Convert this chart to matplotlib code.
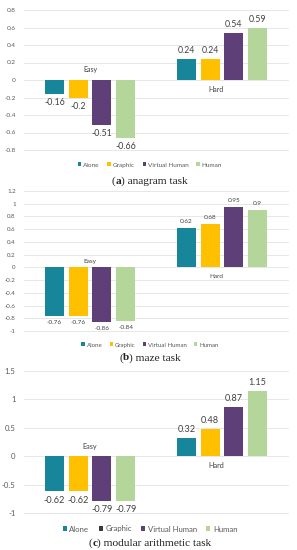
import matplotlib
matplotlib.use("Agg")
import matplotlib.pyplot as plt
from matplotlib.patches import Patch

W, H = 297, 550
DPI = 100

categories = ["Easy", "Hard"]
series = ["Alone", "Graphic", "Virtual Human", "Human"]
colors = ["#17869b", "#ffc000", "#5e3f78", "#b5d69a"]

anagram = {"Alone": [-0.16, 0.24], "Graphic": [-0.2, 0.24],
           "Virtual Human": [-0.51, 0.54], "Human": [-0.66, 0.59]}
maze = {"Alone": [-0.76, 0.62], "Graphic": [-0.76, 0.68],
        "Virtual Human": [-0.86, 0.95], "Human": [-0.84, 0.9]}
modular = {"Alone": [-0.62, 0.32], "Graphic": [-0.62, 0.48],
           "Virtual Human": [-0.79, 0.87], "Human": [-0.79, 1.15]}

ticks_a = [-0.8, -0.6, -0.4, -0.2, 0, 0.2, 0.4, 0.6, 0.8]
ticks_b = [-1, -0.8, -0.6, -0.4, -0.2, 0, 0.2, 0.4, 0.6, 0.8, 1, 1.2]
ticks_c = [-1, -0.5, 0, 0.5, 1, 1.5]

captions = [("(", "a", ") anagram task"), ("(", "b", ") maze task"),
            ("(", "c", ") modular arithmetic task")]

fig = plt.figure(figsize=(W / DPI, H / DPI), dpi=DPI)
fig.patch.set_facecolor("white")

FONT = "Lato"
SERIF = "Liberation Serif"
CAP_FS = 8.2


def fmt(v):
    return f"{v:g}"


def panel(data, ticks, ytop_px, ybot_px, legend_y, cap_y, caption, tick_fs, lab_fs,
          cat_fs, easy_y, hard_y, legend_colors):
    left, right = 24, 288
    ax = fig.add_axes([left / W, 1 - ybot_px / H, (right - left) / W, (ybot_px - ytop_px) / H])
    ax.set_xlim(-0.5, 1.5)
    ax.set_ylim(ticks[0], ticks[-1])
    for s in ax.spines.values():
        s.set_visible(False)
    ax.set_xticks([])
    ax.set_yticks(ticks)
    ax.set_yticklabels([fmt(t) for t in ticks], fontsize=tick_fs, color="#595959", family=FONT)
    ax.tick_params(axis="y", length=0, pad=6)
    for t in ticks:
        ax.axhline(t, color="#e3e3e3", lw=0.6, zorder=0, clip_on=False)
    bw = 0.145
    step = 0.18
    offs = [-1.5 * step, -0.5 * step, 0.5 * step, 1.5 * step]
    for i, name in enumerate(series):
        xs = [c + offs[i] for c in range(len(categories))]
        vals = data[name]
        ax.bar(xs, vals, width=bw, color=colors[i], zorder=2)
        for x, v in zip(xs, vals):
            if v < 0:
                ax.annotate(fmt(v), (x, v), xytext=(0, -3), textcoords="offset points",
                            ha="center", va="top", fontsize=lab_fs, color="#404040", family=FONT)
            else:
                ax.annotate(fmt(v), (x, v), xytext=(0, 3), textcoords="offset points",
                            ha="center", va="bottom", fontsize=lab_fs, color="#404040", family=FONT)
    fig.text(90 / W, 1 - easy_y / H, categories[0], ha="center", va="center",
             fontsize=cat_fs, color="#404040", family=FONT)
    fig.text(216 / W, 1 - hard_y / H, categories[1], ha="center", va="center",
             fontsize=cat_fs, color="#404040", family=FONT)
    handles = [Patch(facecolor=c, edgecolor="none") for c in legend_colors]
    fig.legend(handles, series, loc="center", bbox_to_anchor=(150 / W, 1 - legend_y / H),
               ncol=4, frameon=False, handlelength=0.55, handleheight=0.55,
               handletextpad=0.3, columnspacing=1.2, prop={"family": FONT, "size": tick_fs},
               labelcolor="#595959")
    # caption with bold letter
    fig.canvas.draw()
    r = fig.canvas.get_renderer()
    parts = []
    for j, s in enumerate(caption):
        t = fig.text(0, 0, s, fontsize=CAP_FS, family=SERIF,
                     weight="bold" if j == 1 else "normal", color="#222222", va="baseline")
        parts.append(t)
    widths = [t.get_window_extent(r).width for t in parts]
    x = 150 - sum(widths) / 2
    for t, w in zip(parts, widths):
        t.set_position((x / W, 1 - (cap_y + 2.5) / H))
        x += w
    return ax


panel(anagram, ticks_a, 10, 150, 165, 181, captions[0], 4.6, 6.3, 5.0, 70, 89, colors)
panel(maze, ticks_b, 191, 331, 345, 358, captions[1], 4.4, 4.6, 4.6, 261, 276, colors)
colors_c_legend = [colors[0], "#3a3a3a", colors[2], colors[3]]
panel(modular, ticks_c, 371, 513, 529, 543, captions[2], 5.6, 6.6, 5.2, 446, 465, colors_c_legend)

fig.savefig("out.png", dpi=DPI, facecolor="white")
